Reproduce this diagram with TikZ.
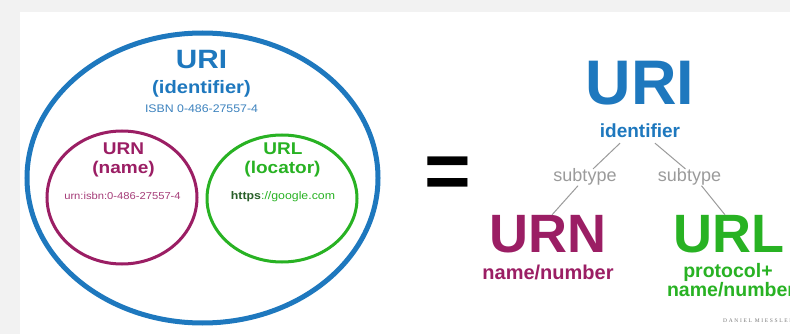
\documentclass[tikz,border=0pt]{standalone}
\usepackage{fontspec}
\setmainfont{Liberation Sans}
\newfontfamily\signfont[LetterSpace=30]{Liberation Serif}
\usetikzlibrary{calc}

\definecolor{bggrey}{RGB}{242,242,242}
\definecolor{uriblue}{RGB}{30,120,190}
\definecolor{isbnblue}{RGB}{60,130,190}
\definecolor{urnpurple}{RGB}{155,30,100}
\definecolor{urnlight}{RGB}{165,60,120}
\definecolor{urlgreen}{RGB}{40,178,35}
\definecolor{urldark}{RGB}{40,95,40}
\definecolor{subgrey}{RGB}{155,155,155}
\definecolor{signgrey}{RGB}{120,120,120}

\newcommand\setfs[1]{\fontsize{#1}{#1}\selectfont}
\newcommand\stretchx[1]{\scalebox{1.12}[1]{#1}}

\tikzset{
  lbl/.style={anchor=base, inner sep=0pt, outer sep=0pt},
  conn/.style={draw=subgrey, line width=1pt},
  ring/.style={line width=#1},
}

\begin{document}
\begin{tikzpicture}[x=1pt, y=-1pt]
\useasboundingbox (0,0) rectangle (790,334);
\clip (0,0) rectangle (790,334);

% page backdrop and white panel
\fill[bggrey] (0,0) rectangle (790,334);
\fill[white] (20,12) rectangle (790,334);

% ---- Venn view ----
\draw[uriblue, ring=5pt] (202.5,178) ellipse [x radius=175.5pt, y radius=145pt];
\draw[urnpurple, ring=3pt] (122,197.5) ellipse [x radius=75pt, y radius=66.5pt];
\draw[urlgreen, ring=3pt] (282,198.5) ellipse [x radius=75pt, y radius=63.5pt];

\node[lbl, text=uriblue] (vuri) at (201.5,69) {\stretchx{\setfs{26.5}\bfseries URI}};
\node[lbl, text=uriblue] (vid) at (201.5,94) {\stretchx{\setfs{18}\bfseries (identifier)}};
\node[lbl, text=isbnblue] (visbn) at (201.5,112.5) {\stretchx{\setfs{11}ISBN 0-486-27557-4}};

\node[lbl, text=urnpurple] (vurn) at (123.5,154) {\stretchx{\setfs{17}\bfseries URN}};
\node[lbl, text=urnpurple] (vname) at (123.5,173) {\stretchx{\setfs{17}\bfseries (name)}};
\node[lbl, text=urnlight] (vurnex) at (122.5,199) {\stretchx{\setfs{10}urn:isbn:0-486-27557-4}};

\node[lbl, text=urlgreen] (vurl) at (283,154) {\stretchx{\setfs{17}\bfseries URL}};
\node[lbl, text=urlgreen] (vloc) at (282.5,173) {\stretchx{\setfs{17}\bfseries (locator)}};
\node[lbl, text=urlgreen] (vurlex) at (283,200) {\stretchx{\setfs{11}\textcolor{urldark}{\bfseries https}://google.com}};

% equals sign
\node[lbl] (eq) at (448,198) {\setfs{80}\bfseries =};

% ---- tree view ----
\node[lbl, text=uriblue] (turi) at (640,105) {\setfs{63}\bfseries URI};
\node[lbl, text=uriblue] (tid) at (640,138) {\setfs{19}\bfseries identifier};

\node[lbl, text=subgrey] (subA) at (585,182) {\setfs{18}subtype};
\node[lbl, text=subgrey] (subB) at (689.5,182) {\setfs{18}subtype};

\node[lbl, text=urnpurple] (turn) at (548,252) {\setfs{54}\bfseries URN};
\node[lbl, text=urnpurple] (tnum) at (548,279) {\setfs{20}\bfseries name/number};

\node[lbl, text=urlgreen] (turl) at (729,252) {\setfs{54}\bfseries URL};
\node[lbl, text=urlgreen] (tproto) at (728,277) {\setfs{19.5}\bfseries protocol+};
\node[lbl, text=urlgreen] (tnum2) at (731,296) {\setfs{19.5}\bfseries name/number};

\draw[conn] ([xshift=-20pt,yshift=-5pt]tid.south) -- ([xshift=8pt]subA.north);
\draw[conn] ([xshift=15pt,yshift=-5pt]tid.south) -- ([xshift=-4pt]subB.north);
\draw[conn] ([xshift=-7pt]subA.south) -- ([xshift=4pt]turn.north);
\draw[conn] ([xshift=12pt]subB.south) -- ([xshift=-4pt]turl.north);

\node[anchor=base west, inner sep=0pt, text=signgrey] (sign) at (723,322) {\signfont\setfs{5.5}DANIEL MIESSLER};
\end{tikzpicture}
\end{document}
